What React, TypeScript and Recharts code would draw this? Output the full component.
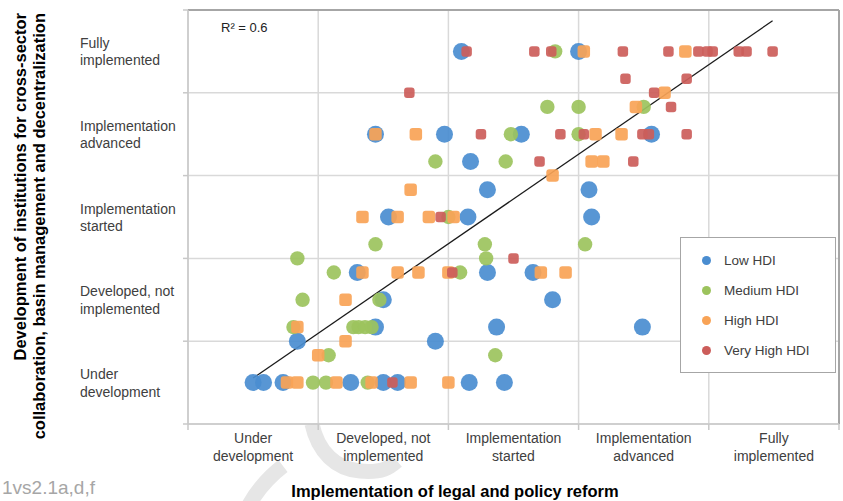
import React from 'react'
import {
  ScatterChart, Scatter, XAxis, YAxis, CartesianGrid, ReferenceLine, Legend,
} from 'recharts'

// category labels (bands between integer gridlines)
const xLabels = [
  ['Under', 'development'],
  ['Developed, not', 'implemented'],
  ['Implementation', 'started'],
  ['Implementation', 'advanced'],
  ['Fully', 'implemented'],
]
const yLabels = xLabels

const ticks = [0, 1, 2, 3, 4, 5]

// [legal/policy reform, institutions] per country, grouped by HDI
const lowHdi = [
  [2.10, 4.5], [3.00, 4.5],
  [1.44, 3.5], [1.97, 3.5], [2.56, 3.5], [3.56, 3.5],
  [2.17, 3.17],
  [2.30, 2.83], [3.08, 2.83],
  [1.54, 2.5], [2.15, 2.5], [3.10, 2.5],
  [1.30, 1.83], [2.30, 1.83], [2.65, 1.83],
  [1.50, 1.5], [2.80, 1.5],
  [1.44, 1.17], [2.37, 1.17], [3.49, 1.17],
  [0.84, 1.0], [1.90, 1.0],
  [0.50, 0.5], [0.58, 0.5], [0.73, 0.5], [1.25, 0.5], [1.50, 0.5], [1.61, 0.5], [2.16, 0.5], [2.43, 0.5],
]
const mediumHdi = [
  [2.82, 4.5],
  [2.76, 3.83], [3.00, 3.83], [3.50, 3.83],
  [2.48, 3.5], [3.00, 3.5],
  [1.90, 3.17], [2.44, 3.17],
  [2.00, 2.5],
  [1.44, 2.17], [2.28, 2.17], [3.05, 2.17],
  [0.84, 2.0], [2.29, 2.0],
  [1.12, 1.83], [2.09, 1.83],
  [0.88, 1.5], [1.47, 1.5],
  [0.81, 1.17], [1.27, 1.17], [1.31, 1.17], [1.36, 1.17], [1.41, 1.17],
  [1.08, 0.83], [2.36, 0.83],
  [0.96, 0.5], [1.06, 0.5], [1.38, 0.5],
]
const highHdi = [
  [3.04, 4.5], [3.82, 4.5],
  [3.66, 4.0],
  [3.44, 3.83],
  [1.44, 3.5], [1.75, 3.5], [3.13, 3.5], [3.33, 3.5],
  [3.10, 3.17], [3.19, 3.17],
  [2.80, 3.0],
  [1.71, 2.83],
  [1.34, 2.5], [1.61, 2.5], [1.85, 2.5], [2.04, 2.5],
  [1.34, 1.83], [1.61, 1.83], [1.77, 1.83], [2.00, 1.83], [2.71, 1.83], [2.90, 1.83],
  [1.21, 1.5],
  [0.84, 1.17],
  [1.21, 1.0],
  [1.00, 0.83],
  [0.76, 0.5], [0.84, 0.5], [1.14, 0.5], [1.41, 0.5], [1.71, 0.5], [2.00, 0.5],
]
const veryHighHdi = [
  [2.14, 4.5], [2.66, 4.5], [2.79, 4.5], [3.34, 4.5], [3.69, 4.5], [3.92, 4.5],
  [3.99, 4.5], [4.03, 4.5], [4.23, 4.5], [4.29, 4.5], [4.49, 4.5],
  [3.36, 4.17], [3.83, 4.17],
  [1.70, 4.0], [3.58, 4.0],
  [3.71, 3.83],
  [2.25, 3.5], [2.86, 3.5], [3.04, 3.5], [3.49, 3.5], [3.54, 3.5], [3.83, 3.5],
  [2.70, 3.17], [3.42, 3.17],
  [1.94, 2.5],
  [2.50, 2.0],
  [2.03, 1.83],
  [1.57, 0.5],
]

const trend = [{ x: 0.5, y: 0.555 }, { x: 4.49, y: 4.87 }]

const W = 843
const H = 501
const M = { top: 10, right: 4, left: 188, bottom: 77 }
const bandW = (W - M.left - M.right) / 5
const bandH = (H - M.top - M.bottom) / 5

const FONT = '"Liberation Sans", Arial, sans-serif'
const TEXT = '#404040'

const toPts = (arr: number[][]) => arr.map(([x, y]) => ({ x, y }))

const series = [
  { name: 'Low HDI', data: toPts(lowHdi), color: '#4a8dd0', kind: 'circle', size: 8.5 },
  { name: 'Medium HDI', data: toPts(mediumHdi), color: '#9cc35d', kind: 'circle', size: 7.2 },
  { name: 'High HDI', data: toPts(highHdi), color: '#f8a356', kind: 'square', size: 12.5 },
  { name: 'Very High HDI', data: toPts(veryHighHdi), color: '#cc5d5a', kind: 'square', size: 10.5 },
]

function makeShape(kind: string, size: number, color: string) {
  return (p: any) => {
    const { cx, cy } = p
    if (cx == null || cy == null) return <g />
    if (kind === 'circle') {
      return <circle cx={cx} cy={cy} r={size} fill={color} fillOpacity={0.92} filter="url(#soft)" />
    }
    return (
      <rect x={cx - size / 2} y={cy - size / 2} width={size} height={size} rx={3}
        fill={color} fillOpacity={0.92} filter="url(#soft)" />
    )
  }
}

function XTick({ x, y, payload }: any) {
  const lines = xLabels[payload.value]
  if (!lines) return null
  const cx = x + bandW / 2
  return (
    <text x={cx} y={y + 11} textAnchor="middle" fill={TEXT} fontSize={14} fontFamily={FONT}>
      {lines.map((l, i) => (
        <tspan key={i} x={cx} dy={i === 0 ? 0 : 18}>{l}</tspan>
      ))}
    </text>
  )
}

function YTick({ y, payload }: any) {
  const lines = yLabels[payload.value]
  if (!lines) return null
  const c = y - bandH / 2
  return (
    <text x={80} y={c - 3.5} textAnchor="start" fill={TEXT} fontSize={14} fontFamily={FONT}>
      {lines.map((l, i) => (
        <tspan key={i} x={80} dy={i === 0 ? 0 : 17.5}>{l}</tspan>
      ))}
    </text>
  )
}

function LegendBox() {
  return (
    <div style={{
      width: 156, height: 136, boxSizing: 'border-box', background: '#fff',
      border: '1.5px solid #a6a6a6', paddingTop: 7, fontFamily: FONT,
    }}>
      {series.map(s => (
        <div key={s.name} style={{ height: 30, display: 'flex', alignItems: 'center' }}>
          <span style={{
            display: 'inline-block', width: 9, height: 9, borderRadius: 5,
            background: s.color, marginLeft: 21, marginRight: 13,
          }} />
          <span style={{ fontSize: 13.5, color: TEXT }}>{s.name}</span>
        </div>
      ))}
    </div>
  )
}

export default function App() {
  return (
    <div style={{ position: 'absolute', left: 0, top: 0, width: W, height: H, background: '#fff' }}>
      <svg width={W} height={H} style={{ position: 'absolute', left: 0, top: 0 }}>
        <defs>
          <filter id="soft" x="-30%" y="-30%" width="160%" height="160%">
            <feGaussianBlur stdDeviation="0.6" />
          </filter>
        </defs>
        {/* faint watermark */}
        <path d="M 312 424 C 318 452, 336 469, 360 471 S 390 467, 397 461"
          stroke="#e6e6e6" strokeWidth={15} fill="none" />
        <path d="M 283 466 Q 262 482, 249 505" stroke="#e6e6e6" strokeWidth={15} fill="none" />
        <text transform="rotate(-90)" fontFamily={FONT} fontWeight="bold" fontSize={16.5} fill="#000" textAnchor="end">
          <tspan x={-13} y={26}>Development of institutions for cross-sector</tspan>
          <tspan x={-13} y={45}>collaboration, basin management and decentralization</tspan>
        </text>
        <text x={455} y={497} textAnchor="middle" fontFamily={FONT} fontWeight="bold" fontSize={16.5} fill="#000">
          Implementation of legal and policy reform
        </text>
        <text x={2} y={494} fontFamily={FONT} fontSize={19} fill="#a6a6a6">1vs2.1a,d,f</text>
        <text x={221} y={32} fontFamily={FONT} fontSize={13} fill="#222">R² = 0.6</text>
      </svg>
      <div style={{ position: 'absolute', left: 0, top: 0 }}>
        <ScatterChart width={W} height={H} margin={{ top: M.top, right: M.right, bottom: 0, left: 0 }}>
          <CartesianGrid stroke="#d9d9d9" strokeWidth={1.5} />
          <XAxis type="number" dataKey="x" domain={[0, 5]} ticks={ticks} interval={0}
            height={M.bottom} tick={<XTick />} tickSize={6}
            axisLine={{ stroke: '#c8c8c8', strokeWidth: 1.5 }} tickLine={{ stroke: '#c8c8c8', strokeWidth: 1.5 }} />
          <YAxis type="number" dataKey="y" domain={[0, 5]} ticks={ticks} interval={0}
            width={M.left} tick={<YTick />} tickSize={5}
            axisLine={{ stroke: '#c8c8c8', strokeWidth: 1.5 }} tickLine={{ stroke: '#c8c8c8', strokeWidth: 1.5 }} />
          <ReferenceLine y={5} stroke="#a6a6a6" strokeWidth={2} />
          <ReferenceLine x={5} stroke="#a6a6a6" strokeWidth={2} />
          {series.map(s => (
            <Scatter key={s.name} name={s.name} data={s.data} fill={s.color}
              shape={makeShape(s.kind, s.size, s.color)} isAnimationActive={false} />
          ))}
          <ReferenceLine segment={trend} stroke="#1a1a1a" strokeWidth={1.3} ifOverflow="visible" />
          <Legend content={<LegendBox />} layout="horizontal" verticalAlign="middle" align="center"
            wrapperStyle={{ left: 680, top: 237, width: 156, height: 136 }} />
        </ScatterChart>
      </div>
    </div>
  )
}
